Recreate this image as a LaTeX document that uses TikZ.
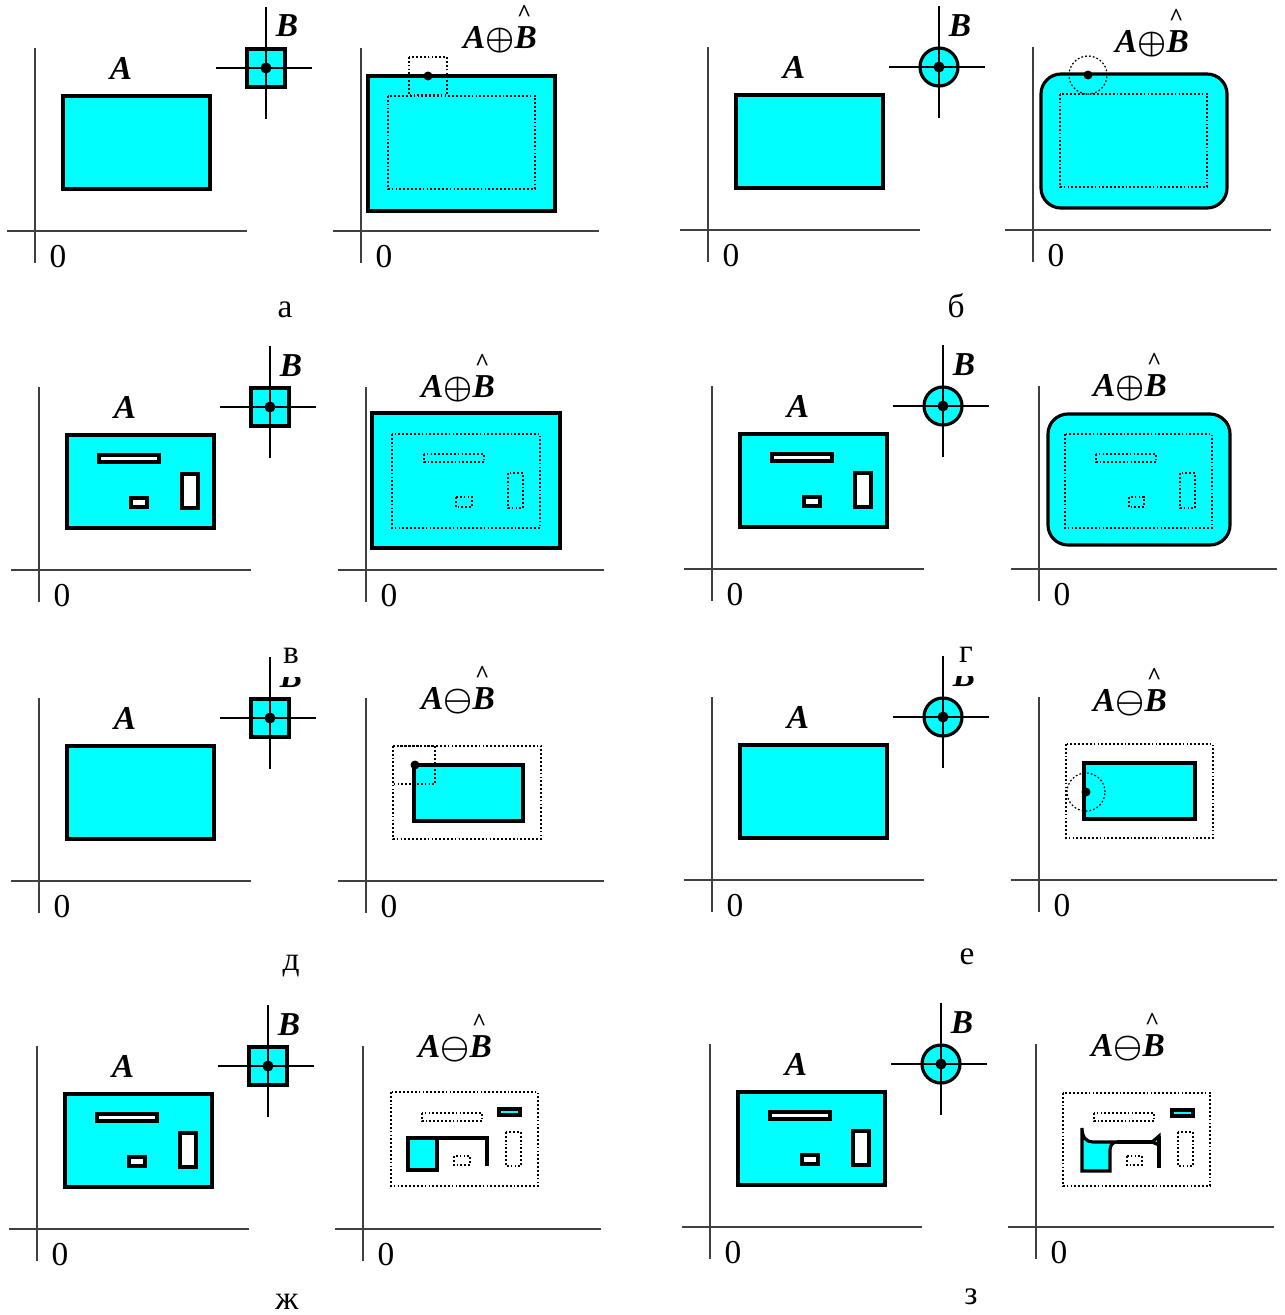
\documentclass[tikz,border=0pt]{standalone}
\usepackage{amsmath}
\usepackage{fontspec}
\setmainfont{Liberation Serif}
\definecolor{set-cyan}{HTML}{00FFFF}
\newcommand{\setA}{\textbf{\textit{A}}}
\newcommand{\setB}{\textbf{\textit{B}}}
\newcommand{\hatB}{\setB\llap{\smash{\raisebox{0.8em}{\normalfont\bfseries\scriptsize\textasciicircum}}\kern0.16em}}
\newcommand{\dil}{$\boldsymbol{\oplus}$}
\newcommand{\ero}{$\boldsymbol{\ominus}$}

\begin{document}
\begin{tikzpicture}[x=0.01cm, y=-0.01cm,
      every node/.style={font=\fontsize{9.5}{11}\selectfont, inner sep=0pt, anchor=base},
      axis/.style={draw=black!75, line width=0.45pt},
      figshape/.style={draw=black, fill=set-cyan, line width=0.9pt},
      hole/.style={draw=black, fill=white, line width=0.9pt},
      trace/.style={draw=black, line width=0.35pt, dash pattern=on 0.5pt off 0.6pt},
      cross/.style={draw=black, line width=0.45pt}]
    \useasboundingbox (0,0) rectangle (1284,1315);

    % left panels: axes and the set A
    \foreach \ox/\oy/\nm in {35/231/a, 708/230/b, 39/570/v, 712/569/g,
                             39/881/d, 712/880/e, 37/1229/zh, 710/1227/z} {
      \begin{scope}[shift={(\ox,\oy)}]
        \draw[axis] (0,-183) -- (0,32);
        \draw[axis] (-28,0) -- (212,0);
        \node (zeroL-\nm) at (23,36) {0};
        \draw[figshape] (28,-135) rectangle (175,-42);
        \node (labA-\nm) at (86,-152) {\setA};
      \end{scope}
    }
    % holes in A (rows v, g, zh, z)
    \foreach \ox/\oy in {39/570, 712/569, 37/1229, 710/1227} {
      \begin{scope}[shift={(\ox,\oy)}]
        \draw[hole] (60,-115) rectangle (120,-108);
        \draw[hole] (92,-72) rectangle (108,-63);
        \draw[hole] (143,-96) rectangle (159,-62);
      \end{scope}
    }

    % structuring element B: square
    \foreach \ox/\oy in {35/231, 39/570, 39/881, 37/1229} {
      \begin{scope}[shift={(\ox,\oy)}]
        \draw[figshape] (212,-182) rectangle (250,-144);
        \draw[cross] (181,-163) -- (277,-163);
        \draw[cross] (231,-224) -- (231,-112);
        \fill (231,-163) circle (0.055cm);
      \end{scope}
    }
    % structuring element B: disc
    \foreach \ox/\oy in {708/230, 712/569, 712/880, 710/1227} {
      \begin{scope}[shift={(\ox,\oy)}]
        \draw[figshape] (231,-163) circle (0.19cm);
        \draw[cross] (181,-163) -- (277,-163);
        \draw[cross] (231,-224) -- (231,-112);
        \fill (231,-163) circle (0.055cm);
      \end{scope}
    }
    % B labels
    \foreach \ox/\oy/\nm in {35/231/a, 708/230/b, 39/570/v, 712/569/g, 37/1229/zh, 710/1227/z}
      \node (labB-\nm) at (\ox+252,\oy-194) {\setB};
    % B labels half hidden under the captions
    \foreach \ox/\oy/\nm in {39/881/d, 712/880/e} {
      \begin{scope}
        \clip (\ox+225,\oy-204) rectangle (\ox+285,\oy-180);
        \node (labB-\nm) at (\ox+252,\oy-194) {\setB};
      \end{scope}
    }

    % right panels: axes
    \foreach \ox/\oy/\nm in {361/231/a, 1033/230/b, 366/570/v, 1039/569/g,
                             366/881/d, 1039/880/e, 363/1229/zh, 1036/1227/z} {
      \begin{scope}[shift={(\ox,\oy)}]
        \draw[axis] (0,-183) -- (0,32);
        \draw[axis] (-28,0) -- (238,0);
        \node (zeroR-\nm) at (23,36) {0};
      \end{scope}
    }

    % a: dilation by the square
    \begin{scope}[shift={(361,231)}]
      \draw[figshape] (7,-155) rectangle (194,-20);
      \draw[trace] (27,-135) rectangle (174,-42);
      \draw[trace] (48,-174) rectangle (86,-136);
      \fill (67,-155) circle (0.045cm);
      \node (res-a) at (139,-183) {\setA\dil\hatB};
    \end{scope}

    % b: dilation by the disc
    \begin{scope}[shift={(1033,230)}]
      \draw[figshape, rounded corners=0.2cm] (8,-156) rectangle (194,-22);
      \draw[trace] (27,-136) rectangle (174,-43);
      \draw[trace] (55,-155) circle (0.19cm);
      \fill (55,-155) circle (0.045cm);
      \node (res-b) at (119,-178) {\setA\dil\hatB};
    \end{scope}

    % v: dilation of A with holes, square
    \begin{scope}[shift={(366,570)}]
      \draw[figshape] (6,-157) rectangle (194,-22);
      \draw[trace] (26,-136) rectangle (174,-42);
      \draw[trace] (58,-116) rectangle (118,-108);
      \draw[trace] (90,-73) rectangle (106,-63);
      \draw[trace] (142,-97) rectangle (157,-62);
      \node (res-v) at (92,-173) {\setA\dil\hatB};
    \end{scope}

    % g: dilation of A with holes, disc
    \begin{scope}[shift={(1039,569)}]
      \draw[figshape, rounded corners=0.2cm] (9,-155) rectangle (191,-24);
      \draw[trace] (26,-135) rectangle (173,-41);
      \draw[trace] (57,-115) rectangle (117,-107);
      \draw[trace] (90,-72) rectangle (105,-62);
      \draw[trace] (141,-96) rectangle (156,-61);
      \node (res-g) at (91,-173) {\setA\dil\hatB};
    \end{scope}

    % d: erosion by the square
    \begin{scope}[shift={(366,881)}]
      \draw[trace] (27,-135) rectangle (175,-42);
      \draw[figshape] (48,-116) rectangle (157,-60);
      \draw[trace] (27,-135) rectangle (69,-97);
      \fill (49,-116) circle (0.045cm);
      \node (res-d) at (92,-172) {\setA\ero\hatB};
    \end{scope}

    % e: erosion by the disc
    \begin{scope}[shift={(1039,880)}]
      \draw[trace] (27,-136) rectangle (174,-42);
      \draw[figshape] (45,-117) rectangle (156,-61);
      \draw[trace] (47,-88) circle (0.19cm);
      \fill (47,-88) circle (0.045cm);
      \node (res-e) at (91,-169) {\setA\ero\hatB};
    \end{scope}

    % zh: erosion of A with holes, square
    \begin{scope}[shift={(363,1229)}]
      \draw[trace] (28,-137) rectangle (175,-43);
      \draw[trace] (59,-116) rectangle (119,-108);
      \draw[trace] (91,-73) rectangle (107,-64);
      \draw[trace] (143,-97) rectangle (158,-63);
      \draw[figshape] (136,-120) rectangle (157,-114);
      \draw[figshape] (45,-91) rectangle (74,-59);
      \draw[line width=0.9pt] (74,-91) -- (124,-91) -- (124,-63);
      \node (res-zh) at (92,-172) {\setA\ero\hatB};
    \end{scope}

    % z: erosion of A with holes, disc
    \begin{scope}[shift={(1036,1227)}]
      \draw[trace] (27,-134) rectangle (174,-41);
      \draw[trace] (58,-114) rectangle (118,-106);
      \draw[trace] (91,-71) rectangle (106,-62);
      \draw[trace] (142,-95) rectangle (157,-61);
      \draw[figshape] (136,-117) rectangle (157,-111);
      \draw[figshape] (46,-99) -- (46,-56) -- (74,-56) -- (74,-77)
        .. controls (74,-82) and (77,-85) .. (81,-85) -- (57,-85)
        .. controls (50,-85) and (46,-90) .. cycle;
      \draw[line width=0.9pt] (81,-85) -- (116,-85);
      \draw[figshape] (116,-85) -- (123,-91) -- (123,-82) -- cycle;
      \draw[line width=0.9pt] (123,-91) -- (123,-59);
      \node (res-z) at (92,-171) {\setA\ero\hatB};
    \end{scope}

    % captions
    \node (cap-a) at (285,317) {а};
    \node (cap-b) at (956,317) {б};
    \node (cap-v) at (291,663) {в};
    \node (cap-g) at (966,662) {г};
    \node (cap-d) at (291,970) {д};
    \node (cap-e) at (967,964) {е};
    \node (cap-zh) at (287,1309) {ж};
    \node (cap-z) at (971,1304) {з};
  \end{tikzpicture}
\end{document}
